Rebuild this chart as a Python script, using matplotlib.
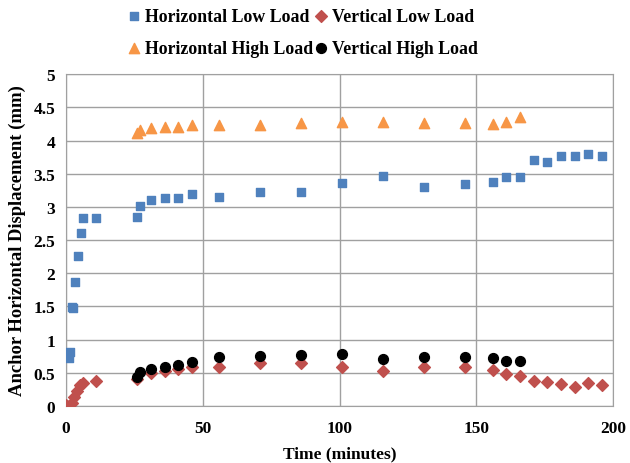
import matplotlib
matplotlib.use("Agg")
import matplotlib.pyplot as plt

# horizontal, low load
t_hl = [0, 1, 1.3, 2.1, 2.6, 3.3, 4.3, 5.3, 6.1, 11, 26, 27, 31, 36, 41, 46, 56,
        71, 86, 101, 116, 131, 146, 156, 161, 166, 171, 176, 181, 186, 191, 196]
d_hl = [0.0, 0.72, 0.82, 1.49, 1.47, 1.87, 2.26, 2.61, 2.83, 2.83, 2.84, 3.01, 3.11, 3.14, 3.14, 3.20, 3.15,
        3.23, 3.23, 3.36, 3.46, 3.30, 3.34, 3.37, 3.45, 3.45, 3.70, 3.68, 3.76, 3.76, 3.80, 3.77]

# vertical, low load
t_vl = [0, 1, 2, 3, 4, 5, 6, 11, 26, 31, 36, 41, 46, 56,
        71, 86, 101, 116, 131, 146, 156, 161, 166, 171, 176, 181, 186, 191, 196]
d_vl = [0.02, 0.0, 0.05, 0.13, 0.22, 0.31, 0.35, 0.38, 0.40, 0.50, 0.53, 0.55, 0.58, 0.59,
        0.64, 0.64, 0.59, 0.53, 0.59, 0.59, 0.54, 0.48, 0.45, 0.38, 0.36, 0.33, 0.29, 0.34, 0.31]

# horizontal, high load
t_hh = [26, 27, 31, 36, 41, 46, 56, 71, 86, 101, 116, 131, 146, 156, 161, 166]
d_hh = [4.11, 4.16, 4.19, 4.20, 4.20, 4.23, 4.23, 4.24, 4.26, 4.28, 4.28, 4.26, 4.26, 4.25, 4.28, 4.36]

# vertical, high load
t_vh = [26, 27, 31, 36, 41, 46, 56, 71, 86, 101, 116, 131, 146, 156, 161, 166]
d_vh = [0.43, 0.51, 0.56, 0.58, 0.61, 0.66, 0.73, 0.75, 0.77, 0.78, 0.70, 0.73, 0.73, 0.72, 0.67, 0.67]

plt.rcParams['font.family'] = ['Liberation Serif', 'DejaVu Serif']
plt.rcParams['font.weight'] = 'bold'

fig = plt.figure(figsize=(6.3, 4.64), dpi=100)
ax = fig.add_axes([0.105, 0.123, 0.868, 0.715])

hl = ax.scatter(t_hl, d_hl, marker='s', s=34, color='#4F81BD', zorder=3, label='Horizontal Low Load')
vl = ax.scatter(t_vl, d_vl, marker='D', s=36, color='#C0504D', zorder=3, label='Vertical Low Load')
hh = ax.scatter(t_hh, d_hh, marker='^', s=55, color='#F79646', zorder=3, label='Horizontal High Load')
vh = ax.scatter(t_vh, d_vh, marker='o', s=50, color='black', zorder=4, label='Vertical High Load')

ax.set_xlim(0, 200)
ax.set_ylim(0, 5)
ax.set_xticks([0, 50, 100, 150, 200])
ax.set_yticks([0, 0.5, 1, 1.5, 2, 2.5, 3, 3.5, 4, 4.5, 5])
ax.set_yticklabels(['0', '0.5', '1', '1.5', '2', '2.5', '3', '3.5', '4', '4.5', '5'])
ax.grid(True, color='#a0a0a0', linewidth=1.0)
ax.set_axisbelow(True)
for s in ax.spines.values():
    s.set_color('#a0a0a0')
ax.tick_params(length=0, labelsize=12.5)
ax.tick_params(axis='x', pad=10)
ax.tick_params(axis='y', pad=8)

ax.set_xlabel('Time (minutes)', fontsize=12.5, fontweight='bold', labelpad=7)
ax.set_ylabel('Anchor Horizontal Displacement (mm)', fontsize=13.4, fontweight='bold', labelpad=5)

fig.legend(handles=[hl, hh, vl, vh], loc='upper left', bbox_to_anchor=(0.203, 0.981), ncol=2,
           frameon=False, fontsize=12.8, handletextpad=0.25, columnspacing=0.1,
           labelspacing=0.84, handlelength=0.7, borderpad=0, borderaxespad=0)

fig.savefig('out.png', dpi=100)
